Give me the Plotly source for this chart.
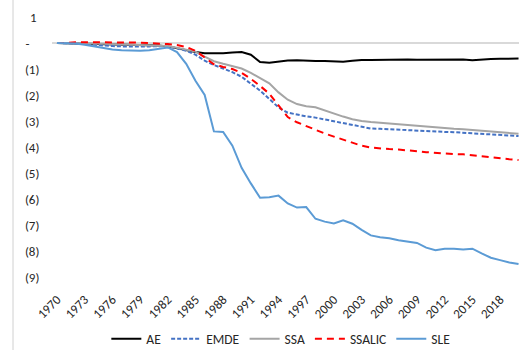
import plotly.graph_objects as go

years = list(range(1970, 2021))

AE = [0, 0, -0.02, -0.03, -0.04, -0.05, -0.05, -0.06, -0.07, -0.08,
      -0.08, -0.1, -0.13, -0.2, -0.28, -0.35, -0.39, -0.4, -0.39, -0.37,
      -0.35, -0.45, -0.73, -0.76, -0.72, -0.67, -0.66, -0.68, -0.69, -0.69,
      -0.7, -0.72, -0.68, -0.65, -0.65, -0.64, -0.64, -0.64, -0.63, -0.64,
      -0.64, -0.64, -0.63, -0.63, -0.63, -0.66, -0.63, -0.62, -0.61, -0.61,
      -0.6]

EMDE = [0, 0, -0.02, -0.04, -0.07, -0.1, -0.12, -0.13, -0.14, -0.14,
        -0.13, -0.12, -0.14, -0.2, -0.3, -0.45, -0.68, -0.85, -0.98, -1.12,
        -1.3, -1.55, -1.83, -2.15, -2.48, -2.68, -2.76, -2.82, -2.87, -2.94,
        -3.0, -3.06, -3.13, -3.22, -3.29, -3.3, -3.32, -3.33, -3.35, -3.37,
        -3.38, -3.4, -3.42, -3.43, -3.45, -3.47, -3.5, -3.53, -3.55, -3.57,
        -3.58]

SSA = [0, 0, 0, -0.01, -0.02, -0.03, -0.04, -0.05, -0.06, -0.07,
       -0.08, -0.1, -0.12, -0.18, -0.26, -0.33, -0.52, -0.7, -0.8, -0.88,
       -0.98, -1.15, -1.35, -1.55, -1.9, -2.18, -2.35, -2.43, -2.47, -2.6,
       -2.73, -2.83, -2.93, -3.0, -3.04, -3.07, -3.1, -3.12, -3.15, -3.18,
       -3.23, -3.26, -3.28, -3.3, -3.32, -3.35, -3.38, -3.41, -3.44, -3.47,
       -3.49]

SSALIC = [0, 0, 0.03, 0.03, 0.04, 0.03, 0.03, 0.02, 0.02, 0.01,
          0.0, -0.02, -0.04, -0.08, -0.15, -0.3, -0.55, -0.82, -0.92, -1.0,
          -1.15, -1.38, -1.65, -1.95, -2.4, -2.85, -3.05, -3.2, -3.33, -3.48,
          -3.6, -3.72, -3.85, -3.95, -4.02, -4.06, -4.08, -4.1, -4.12, -4.16,
          -4.2, -4.23, -4.25, -4.27, -4.28, -4.32, -4.37, -4.41, -4.44, -4.47,
          -4.5]

SLE = [0, 0, -0.02, -0.07, -0.13, -0.2, -0.25, -0.28, -0.3, -0.3,
       -0.28, -0.22, -0.17, -0.35, -0.8, -1.45, -2.0, -3.4, -3.42, -3.95,
       -4.8, -5.4, -5.95, -5.93, -5.87, -6.17, -6.33, -6.31, -6.76, -6.87,
       -6.94, -6.82, -6.95, -7.19, -7.4, -7.47, -7.51, -7.59, -7.63, -7.69,
       -7.87, -7.97, -7.91, -7.91, -7.94, -7.91, -8.09, -8.26, -8.35, -8.44,
       -8.5]

x_ticks = list(range(1970, 2019, 3))
y_ticks = [1, 0, -1, -2, -3, -4, -5, -6, -7, -8, -9]
y_ticktext = ["1\u2008", "-\u2007\u2008", "(1)", "(2)", "(3)", "(4)", "(5)",
              "(6)", "(7)", "(8)", "(9)"]

series = [
    ("AE", AE, "#000000", "solid"),
    ("EMDE", EMDE, "#4472C4", "4px,2px"),
    ("SSA", SSA, "#A5A5A5", "solid"),
    ("SSALIC", SSALIC, "#FF0000", "7px,5px"),
    ("SLE", SLE, "#5B9BD5", "solid"),
]

fig = go.Figure()
for name, vals, color, dash in series:
    fig.add_trace(go.Scatter(x=years, y=vals, name=name, mode="lines",
                             line=dict(color=color, width=2, dash=dash)))

font = "Calibri, Liberation Sans, Arial, sans-serif"
fig.update_layout(
    width=528, height=350,
    margin=dict(l=52, r=9, t=17, b=73, autoexpand=False),
    paper_bgcolor="white", plot_bgcolor="white",
    font=dict(family=font, size=13, color="#262626"),
    showlegend=True,
    legend=dict(orientation="h", x=0.49, xanchor="center", y=-0.238,
                yanchor="middle", font=dict(size=13.5, color="#262626"),
                itemwidth=30, tracegroupgap=0),
    xaxis=dict(range=[1969.46, 2020.05], tickmode="array", tickvals=x_ticks,
               tickangle=-45, showgrid=False, zeroline=False, showline=False,
               automargin=False,
               ticks="outside", ticklen=9, tickcolor="rgba(0,0,0,0)",
               tickfont=dict(size=13, color="#262626")),
    yaxis=dict(range=[-9, 1], tickmode="array", tickvals=y_ticks,
               ticktext=y_ticktext, showgrid=False, zeroline=True,
               automargin=False,
               zerolinecolor="#D9D9D9", zerolinewidth=1.5, showline=False,
               ticks="outside", ticklen=9, tickcolor="rgba(0,0,0,0)",
               tickfont=dict(size=13, color="#262626")),
    shapes=[dict(type="line", xref="paper", yref="paper",
                 x0=-0.0835, x1=-0.0835, y0=-0.3, y1=1.07,
                 line=dict(color="#D0D0D0", width=1))],
)

fig.write_html(
    "out.html",
    config={"displayModeBar": False},
    post_script="document.body.style.margin='0';document.body.style.padding='0';",
)
